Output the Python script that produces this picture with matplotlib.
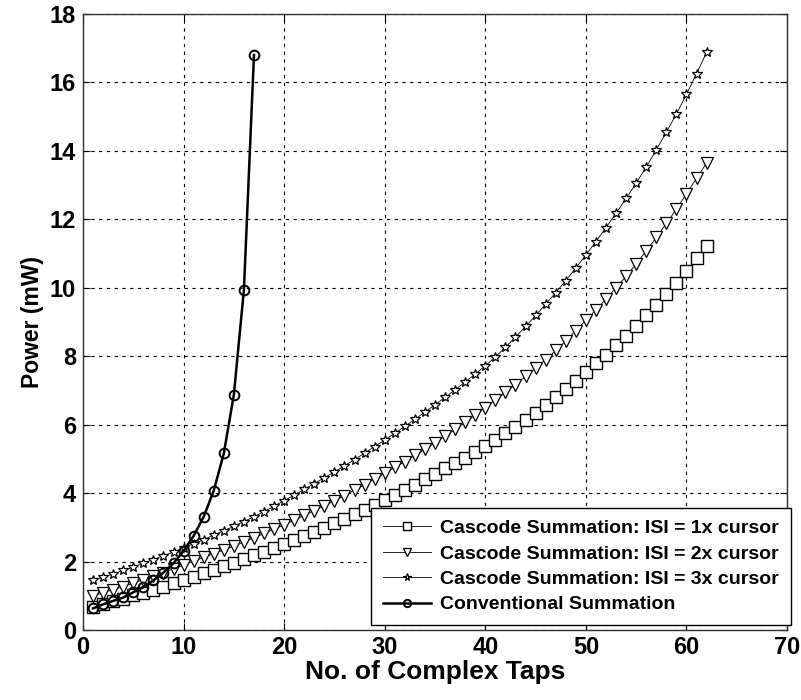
import matplotlib
matplotlib.use('Agg')
import matplotlib.pyplot as plt

# Number of complex taps for each summation scheme
taps_cascode = list(range(1, 63))
taps_conv = list(range(1, 18))

# Power (mW), cascode summation with ISI = 1x cursor
power_isi1 = [0.68, 0.76, 0.84, 0.92, 1.01, 1.09, 1.18, 1.27, 1.36, 1.46,
              1.56, 1.66, 1.76, 1.86, 1.96, 2.07, 2.18, 2.29, 2.40, 2.50,
              2.62, 2.74, 2.86, 2.99, 3.12, 3.25, 3.38, 3.52, 3.66, 3.80,
              3.95, 4.10, 4.25, 4.40, 4.56, 4.72, 4.88, 5.04, 5.21, 5.38,
              5.56, 5.75, 5.94, 6.14, 6.35, 6.57, 6.80, 7.04, 7.28, 7.53,
              7.79, 8.05, 8.32, 8.60, 8.89, 9.19, 9.50, 9.82, 10.15, 10.50,
              10.86, 11.22]

# Power (mW), cascode summation with ISI = 2x cursor
power_isi2 = [1.00, 1.09, 1.18, 1.27, 1.37, 1.47, 1.57, 1.68, 1.79, 1.90,
              2.01, 2.12, 2.23, 2.34, 2.45, 2.57, 2.69, 2.82, 2.95, 3.07,
              3.21, 3.35, 3.49, 3.63, 3.78, 3.93, 4.09, 4.25, 4.41, 4.58,
              4.75, 4.92, 5.10, 5.28, 5.47, 5.66, 5.86, 6.07, 6.28, 6.50,
              6.72, 6.94, 7.17, 7.41, 7.65, 7.90, 8.17, 8.45, 8.75, 9.05,
              9.36, 9.67, 10.00, 10.34, 10.70, 11.08, 11.47, 11.88, 12.30, 12.75,
              13.20, 13.65]

# Power (mW), cascode summation with ISI = 3x cursor
power_isi3 = [1.45, 1.54, 1.64, 1.74, 1.84, 1.95, 2.06, 2.17, 2.28, 2.40,
              2.52, 2.64, 2.77, 2.90, 3.03, 3.17, 3.31, 3.46, 3.62, 3.78,
              3.94, 4.11, 4.28, 4.45, 4.62, 4.80, 4.98, 5.17, 5.36, 5.55,
              5.75, 5.95, 6.16, 6.37, 6.58, 6.80, 7.02, 7.25, 7.48, 7.72,
              7.98, 8.26, 8.56, 8.87, 9.19, 9.52, 9.86, 10.21, 10.58, 10.96,
              11.35, 11.76, 12.18, 12.61, 13.06, 13.53, 14.03, 14.55, 15.08, 15.65,
              16.26, 16.88]

# Power (mW), conventional summation
power_conv = [0.63, 0.75, 0.85, 0.95, 1.10, 1.25, 1.45, 1.68, 1.95, 2.31,
              2.75, 3.31, 4.07, 5.16, 6.87, 9.94, 16.80]

labels = ['Cascode Summation: ISI = 1x cursor',
          'Cascode Summation: ISI = 2x cursor',
          'Cascode Summation: ISI = 3x cursor',
          'Conventional Summation']

x_ticks = list(range(0, 71, 10))
y_ticks = list(range(0, 19, 2))

plt.rcParams['font.family'] = ['Liberation Sans', 'DejaVu Sans']

fig = plt.figure(figsize=(8.01, 7.0), dpi=100)
ax = fig.add_axes([0.1036, 0.1, 0.879, 0.88])

ax.plot(taps_cascode, power_isi1, color='black', lw=0.6, marker='s', ms=8,
        mfc='white', mec='black', mew=1.0, label=labels[0])
ax.plot(taps_cascode, power_isi2, color='black', lw=0.6, marker='v', ms=8.5,
        mfc='white', mec='black', mew=0.9, label=labels[1])
ax.plot(taps_cascode, power_isi3, color='black', lw=0.6, marker='*', ms=7.5,
        mfc='white', mec='black', mew=0.9, label=labels[2])
ax.plot(taps_conv, power_conv, color='black', lw=1.8, marker='o', ms=7,
        mfc='none', mec='black', mew=1.4, label=labels[3])

ax.set_xlim(0, 70)
ax.set_ylim(0, 18)
ax.set_xticks(x_ticks)
ax.set_yticks(y_ticks)
ax.grid(True, color='black', linestyle=(0, (3, 4)), lw=0.8)
ax.tick_params(direction='in', top=True, right=True, length=5, width=0.8)
ax.tick_params(axis='x', pad=4)
ax.tick_params(axis='y', pad=5)

for lab in ax.get_xticklabels():
    lab.set_fontweight('bold')
    lab.set_fontsize(17)
for lab in ax.get_yticklabels():
    lab.set_fontweight('bold')
    lab.set_fontsize(17)

ax.set_xlabel('No. of Complex Taps', fontsize=19, fontweight='bold', labelpad=1)
ax.set_ylabel('Power (mW)', fontsize=16.5, fontweight='bold', labelpad=4)

for s in ax.spines.values():
    s.set_color('#303030')
    s.set_linewidth(1.0)

# legend sits in the lower right corner, slightly past the right spine
leg = ax.legend(loc='lower right', bbox_to_anchor=(1.005, 0.008),
                prop={'weight': 'bold', 'size': 14},
                fancybox=False, framealpha=1, edgecolor='black',
                borderaxespad=0.0, handlelength=2.5, labelspacing=0.4,
                borderpad=0.6, handletextpad=0.45, markerscale=0.75)
leg.get_frame().set_linewidth(1.0)

fig.savefig('out.png', dpi=100)
